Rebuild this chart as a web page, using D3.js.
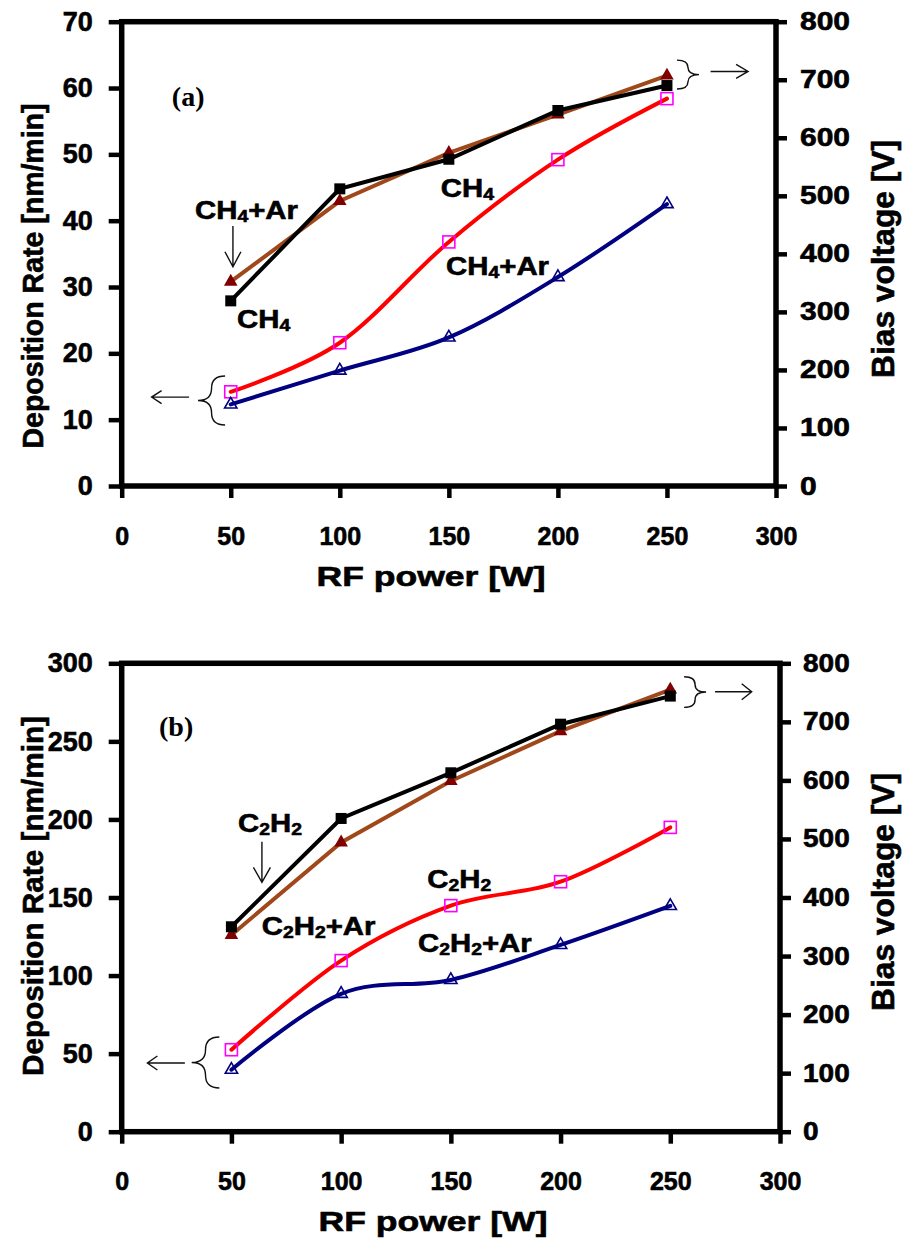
<!DOCTYPE html>
<html>
<head>
<meta charset="utf-8">
<script src="https://cdn.jsdelivr.net/npm/d3@7"></script>
<style>
  html, body { margin: 0; padding: 0; background: #fff; }
  svg { display: block; }
</style>
</head>
<body>
<svg id="chart" width="904" height="1258"></svg>
<script>
// RF power settings (x axis, both panels)
const power = [50, 100, 150, 200, 250];
const powerTicks = [0, 50, 100, 150, 200, 250, 300];

// Panel (a): CH4 and CH4+Ar
const rateCH4   = [14.2, 21.6, 36.8, 49.2, 58.4];   // nm/min
const rateCH4Ar = [12.3, 17.4, 22.4, 31.5, 42.5];   // nm/min
const biasCH4   = [319, 512, 563, 647, 690];        // V
const biasCH4Ar = [352, 491, 574, 640, 707];        // V
const rateTicksA = [0, 10, 20, 30, 40, 50, 60, 70];

// Panel (b): C2H2 and C2H2+Ar
const rateC2H2   = [52.5, 109.6, 144.8, 160.1, 194.9];
const rateC2H2Ar = [39.7, 88.3, 97.2, 119.6, 144.6];
const biasC2H2   = [350, 535, 613, 696, 744];
const biasC2H2Ar = [336, 494, 599, 684, 755];
const rateTicksB = [0, 50, 100, 150, 200, 250, 300];

const biasTicks = [0, 100, 200, 300, 400, 500, 600, 700, 800];

const svg = d3.select("#chart");
const SANS = "'Liberation Sans', Arial, sans-serif";
const SERIF = "'Liberation Serif', 'Times New Roman', serif";

const zip = (xs, ys) => xs.map((v, i) => [v, ys[i]]);

// heavier bold look for sans text
const heavy = sel => sel.attr("stroke", "#000").attr("stroke-width", 0.6).attr("paint-order", "stroke");

// text with "_n" subscripts, e.g. "CH_4+Ar"
function richLabel(g, str, px, py, size) {
  const t = g.append("text")
    .attr("transform", `translate(${px},${py}) scale(1.13,1)`)
    .attr("font-family", SANS).attr("font-weight", "bold")
    .attr("font-size", size).attr("fill", "#000")
    .call(heavy);
  let shift = 0;
  str.split(/(_\d)/).filter(s => s.length).forEach(part => {
    if (part[0] === "_") {
      t.append("tspan").attr("font-size", size * 0.66).attr("dy", 3 - shift).text(part.slice(1));
      shift = 3;
    } else {
      t.append("tspan").attr("dy", -shift).text(part);
      shift = 0;
    }
  });
}

function arrow(g, x1, y1, x2, y2, headLen, headHalf) {
  const ang = Math.atan2(y2 - y1, x2 - x1);
  const bx = x2 - headLen * Math.cos(ang), by = y2 - headLen * Math.sin(ang);
  const nx = -Math.sin(ang) * headHalf, ny = Math.cos(ang) * headHalf;
  g.append("path")
    .attr("d", `M${x1},${y1}L${x2},${y2}M${bx + nx},${by + ny}L${x2},${y2}L${bx - nx},${by - ny}`)
    .attr("fill", "none").attr("stroke", "#111").attr("stroke-width", 1.4);
}

// curly brace; tip points left when xEnd > xTip, right otherwise
function brace(g, xTip, xEnd, yTop, yBot) {
  const w = xEnd - xTip;
  const xm = xTip + w * 0.5;
  const ym = (yTop + yBot) / 2;
  const r = Math.min(Math.abs(w) * 0.5, (yBot - yTop) / 4);
  const d = `M${xEnd},${yTop}Q${xm},${yTop} ${xm},${yTop + r}L${xm},${ym - r}` +
            `Q${xm},${ym} ${xTip},${ym}Q${xm},${ym} ${xm},${ym + r}` +
            `L${xm},${yBot - r}Q${xm},${yBot} ${xEnd},${yBot}`;
  g.append("path").attr("d", d).attr("fill", "none")
    .attr("stroke", "#111").attr("stroke-width", 1.4);
}

function drawPanel(cfg) {
  const g = svg.append("g");
  const x  = d3.scaleLinear().domain([0, 300]).range([cfg.left, cfg.right]);
  const yL = d3.scaleLinear().domain([0, cfg.rateMax]).range([cfg.bottom, cfg.top]);
  const yR = d3.scaleLinear().domain([0, 800]).range([cfg.bottom, cfg.top]);

  const styleAxis = size => sel => {
    sel.select(".domain").remove();
    sel.selectAll(".tick line").attr("stroke", "#000").attr("stroke-width", 4.5);
    sel.selectAll(".tick text").attr("font-family", SANS).attr("font-weight", "bold")
      .attr("font-size", size).attr("fill", "#000").call(heavy);
  };

  g.append("g").attr("transform", `translate(0,${cfg.bottom})`)
    .call(d3.axisBottom(x).tickValues(powerTicks).tickSize(12).tickPadding(29).tickFormat(d3.format("d")))
    .call(styleAxis(25));
  g.append("g").attr("transform", `translate(${cfg.left},0)`)
    .call(d3.axisLeft(yL).tickValues(cfg.rateTicks).tickSize(13).tickPadding(16).tickFormat(d3.format("d")))
    .call(styleAxis(27));
  const rAxis = g.append("g").attr("transform", `translate(${cfg.right},0)`)
    .call(d3.axisRight(yR).tickValues(biasTicks).tickSize(11).tickPadding(cfg.rightPad).tickFormat(d3.format("d")))
    .call(styleAxis(25));
  // right-axis numbers are set wider than the others
  rAxis.selectAll(".tick text")
    .attr("transform", `translate(${11 + cfg.rightPad},0) scale(${cfg.rightScale},1)`)
    .attr("x", 0);

  // plot frame
  g.append("rect")
    .attr("x", cfg.left).attr("y", cfg.top)
    .attr("width", cfg.right - cfg.left).attr("height", cfg.bottom - cfg.top)
    .attr("fill", "none").attr("stroke", "#000").attr("stroke-width", 5.5);

  const smooth = d3.line().x(d => x(d[0])).curve(d3.curveCatmullRom.alpha(0));
  const straight = d3.line().x(d => x(d[0]));

  // deposition rate, smooth curves with open markers
  const rateSeries = [
    { data: zip(power, cfg.rate1), line: "#FF0000", marker: "square", mcolor: "#FF00FF" },
    { data: zip(power, cfg.rate2), line: "#000080", marker: "triangle", mcolor: "#000080" }
  ];
  rateSeries.forEach(s => {
    g.append("path").attr("d", smooth.y(d => yL(d[1]))(s.data))
      .attr("fill", "none").attr("stroke", s.line).attr("stroke-width", 4)
      .attr("stroke-linejoin", "round").attr("stroke-linecap", "round");
  });
  rateSeries.forEach(s => {
    if (s.marker === "square") {
      g.selectAll(null).data(s.data).join("rect")
        .attr("x", d => x(d[0]) - 6).attr("y", d => yL(d[1]) - 6)
        .attr("width", 12).attr("height", 12)
        .attr("fill", "none").attr("stroke", s.mcolor).attr("stroke-width", 1.6);
    } else {
      g.selectAll(null).data(s.data).join("path")
        .attr("transform", d => `translate(${x(d[0])},${yL(d[1])})`)
        .attr("d", d3.symbol(d3.symbolTriangle, 66))
        .attr("fill", "none").attr("stroke", s.mcolor).attr("stroke-width", 1.6);
    }
  });

  // bias voltage, straight lines with filled markers
  const biasArLine = zip(power, cfg.bias2);
  const biasLine = zip(power, cfg.bias1);
  g.append("path").attr("d", straight.y(d => yR(d[1]))(biasArLine))
    .attr("fill", "none").attr("stroke", "#A0481A").attr("stroke-width", 4);
  g.selectAll(null).data(biasArLine).join("path")
    .attr("transform", d => `translate(${x(d[0])},${yR(d[1])})`)
    .attr("d", d3.symbol(d3.symbolTriangle, 80))
    .attr("fill", "#800000");
  g.append("path").attr("d", straight.y(d => yR(d[1]))(biasLine))
    .attr("fill", "none").attr("stroke", "#000").attr("stroke-width", 4);
  g.selectAll(null).data(biasLine).join("rect")
    .attr("x", d => x(d[0]) - 5.5).attr("y", d => yR(d[1]) - 5.5)
    .attr("width", 11).attr("height", 11).attr("fill", "#000");

  // annotations, placed in (power, rate) coordinates
  const P = (p, r) => [x(p), yL(r)];
  g.append("text")
    .attr("x", P(...cfg.tag.at)[0]).attr("y", P(...cfg.tag.at)[1])
    .attr("font-family", SERIF).attr("font-weight", "bold").attr("font-size", 28)
    .text(cfg.tag.text);
  cfg.labels.forEach(l => {
    const [px, py] = P(...l.at);
    richLabel(g, l.text, px, py, 26);
  });
  cfg.arrows.forEach(a => {
    const [x1, y1] = P(...a.from), [x2, y2] = P(...a.to);
    arrow(g, x1, y1, x2, y2, a.head[0], a.head[1]);
  });
  cfg.braces.forEach(b => {
    brace(g, x(b.tip), x(b.end), yL(b.r[1]), yL(b.r[0]));
  });

  // axis titles
  g.append("text")
    .attr("x", cfg.xTitle[0]).attr("y", cfg.xTitle[1])
    .attr("text-anchor", "middle").attr("font-family", SANS).attr("font-weight", "bold")
    .attr("font-size", 28).attr("textLength", 229).attr("lengthAdjust", "spacingAndGlyphs")
    .call(heavy).text("RF power [W]");
  g.append("text")
    .attr("transform", `translate(${cfg.leftTitle[0]},${cfg.leftTitle[1]}) rotate(-90)`)
    .attr("text-anchor", "middle").attr("font-family", SANS).attr("font-weight", "bold")
    .attr("font-size", 30).attr("textLength", cfg.leftTitle[2]).attr("lengthAdjust", "spacingAndGlyphs")
    .call(heavy).text("Deposition Rate [nm/min]");
  g.append("text")
    .attr("transform", `translate(${cfg.rightTitle[0]},${cfg.rightTitle[1]}) rotate(-90)`)
    .attr("text-anchor", "middle").attr("font-family", SANS).attr("font-weight", "bold")
    .attr("font-size", 31).attr("textLength", 238).attr("lengthAdjust", "spacingAndGlyphs")
    .call(heavy).text("Bias voltage [V]");
}

drawPanel({
  left: 121.7, right: 776, top: 21.7, bottom: 486, rightPad: 13, rightScale: 1.2,
  rateMax: 70, rateTicks: rateTicksA,
  rate1: rateCH4, rate2: rateCH4Ar, bias1: biasCH4, bias2: biasCH4Ar,
  tag: { text: "(a)", at: [23, 57.3] },
  labels: [
    { text: "CH_4+Ar", at: [33.6, 40.25] },
    { text: "CH_4",    at: [52.9, 23.8] },
    { text: "CH_4",    at: [146.3, 43.6] },
    { text: "CH_4+Ar", at: [148.7, 31.8] }
  ],
  arrows: [
    { from: [51, 39.2],   to: [51, 33.06],  head: [15, 8] },
    { from: [30.9, 13.4], to: [13.7, 13.4], head: [10, 6.5] },
    { from: [270, 62.5],  to: [287.2, 62.5], head: [12, 7] }
  ],
  braces: [
    { tip: 35, end: 47.4, r: [9.2, 16.58] },
    { tip: 264.7, end: 254.6, r: [59.85, 64.2] }
  ],
  xTitle: [431, 586],
  leftTitle: [43, 276, 345],
  rightTitle: [894, 259]
});

drawPanel({
  left: 121.7, right: 780, top: 663.3, bottom: 1131.7, rightPad: 12, rightScale: 1.12,
  rateMax: 300, rateTicks: rateTicksB,
  rate1: rateC2H2, rate2: rateC2H2Ar, bias1: biasC2H2, bias2: biasC2H2Ar,
  tag: { text: "(b)", at: [17, 253.4] },
  labels: [
    { text: "C_2H_2",    at: [53, 192.1] },
    { text: "C_2H_2+Ar", at: [63.8, 126] },
    { text: "C_2H_2",    at: [139.3, 156.1] },
    { text: "C_2H_2+Ar", at: [135, 115.3] }
  ],
  arrows: [
    { from: [63.9, 185.7], to: [63.9, 159.7], head: [15, 8.5] },
    { from: [28.8, 44],    to: [11.7, 44],    head: [10, 7] },
    { from: [270.4, 281.8], to: [287.1, 281.8], head: [10, 8] }
  ],
  braces: [
    { tip: 31.9, end: 44.5, r: [28, 60.7] },
    { tip: 266.3, end: 256.3, r: [271.8, 291.4] }
  ],
  xTitle: [433, 1231],
  leftTitle: [43, 896, 360],
  rightTitle: [894, 892]
});
</script>
</body>
</html>
